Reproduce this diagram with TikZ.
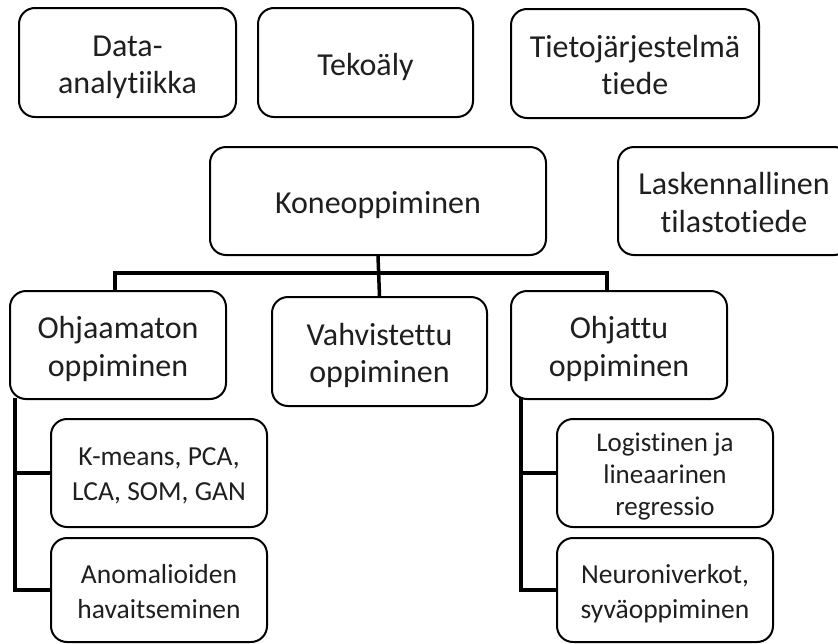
\documentclass[tikz,border=0pt]{standalone}
\usepackage{fontspec}
\setmainfont{Carlito}[RawFeature={-liga;-clig;-dlig}]
\newcommand\boxlines[2][-5pt]{\raisebox{#1}[\height][\depth]{\begin{tabular}{@{}c@{}}#2\end{tabular}}}
\begin{document}
\begin{tikzpicture}[x=1pt,y=-1pt,
  box/.style={draw=black, line width=2pt, rounded corners=16pt, fill=white,
    inner sep=0pt, text=black!88,
    font=\fontsize{32}{37.5}\selectfont},
  smallbox/.style={box, font=\fontsize{27.5}{35}\selectfont},
  tinybox/.style={box, font=\fontsize{27}{32}\selectfont},
  conn/.style={draw=black, line width=3.5pt, line cap=rect}]
\clip (0,0) rectangle (838,643);
\useasboundingbox (0,0) rectangle (838,643);
\fill[white] (0,0) rectangle (838,643);

\node[box, minimum width=217pt, minimum height=109pt] (data) at (127.5,62.5) {\boxlines{Data-\\analytiikka}};
\node[box, minimum width=215pt, minimum height=109pt] (teko) at (365.5,62.5) {\boxlines{Tekoäly}};
\node[box, minimum width=248pt, minimum height=109pt] (tieto) at (635,63.5) {\boxlines{Tietojärjestelmä\\tiede}};
\node[box, minimum width=336pt, minimum height=108pt] (kone) at (378,201) {\boxlines{Koneoppiminen}};
\node[box, minimum width=232pt, minimum height=108pt] (lask) at (734,201) {\boxlines{Laskennallinen\\tilastotiede}};

\node[box, minimum width=216pt, minimum height=108pt] (ohj) at (118,345) {\boxlines{Ohjaamaton\\oppiminen}};
\node[box, minimum width=215pt, minimum height=109pt] (vahv) at (379.5,351.5) {\boxlines{Vahvistettu\\oppiminen}};
\node[box, minimum width=216pt, minimum height=108pt] (ohjt) at (619,345) {\boxlines{Ohjattu\\oppiminen}};

\node[smallbox, minimum width=216pt, minimum height=108pt] (kmeans) at (159,473) {\boxlines[-3pt]{K-means, PCA,\\LCA, SOM, GAN}};
\node[smallbox, minimum width=216pt, minimum height=104pt] (anom) at (159,590) {\boxlines[-4pt]{Anomalioiden\\havaitseminen}};
\node[tinybox, minimum width=216pt, minimum height=108pt] (logi) at (665,473) {\boxlines[-4pt]{Logistinen ja\\lineaarinen\\regressio}};
\node[smallbox, minimum width=216pt, minimum height=104pt] (neuro) at (665,590) {\boxlines[-4pt]{Neuroniverkot,\\syväoppiminen}};

\coordinate (bus) at (kone.south |- 0,273);
\coordinate (ltop) at ([xshift=-3pt]ohj.north);
\coordinate (rtop) at ([xshift=-12pt]ohjt.north);
\draw[conn] (kone.south) -- (vahv.north);
\draw[conn] (ltop) |- (bus) -| (rtop);
\draw[conn] ([xshift=6pt]ohj.south west) |- (kmeans.west);
\draw[conn] ([xshift=6pt]ohj.south west) |- (anom.west);
\draw[conn] ([xshift=11pt]ohjt.south west) |- (logi.west);
\draw[conn] ([xshift=11pt]ohjt.south west) |- (neuro.west);
\end{tikzpicture}
\end{document}
